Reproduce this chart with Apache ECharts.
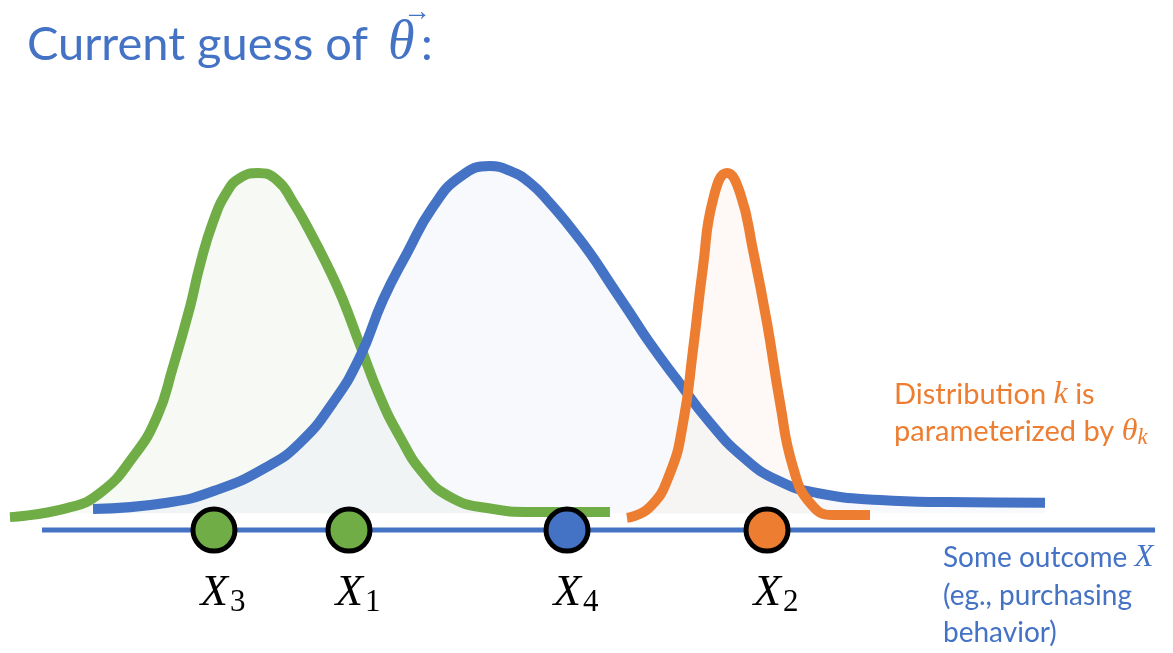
<!DOCTYPE html>
<html>
<head>
<meta charset="utf-8">
<script src="https://cdn.jsdelivr.net/npm/echarts@6/dist/echarts.min.js"></script>
<style>
  html, body { margin: 0; padding: 0; background: #ffffff; }
  #chart { width: 1173px; height: 653px; }
</style>
</head>
<body>
<div id="chart"></div>
<script>
// Density curves of the three mixture components, sampled as [outcome, density]
const greenCurve = [
  [0.85, -0.011], [5.71, 0.015], [8.53, 0.058], [11.34, 0.161], [13.38, 0.276],
  [14.75, 0.419], [16.20, 0.591], [17.05, 0.711], [18.16, 0.834], [19.35, 0.920],
  [20.46, 0.960], [22.00, 0.974], [23.61, 0.954], [24.98, 0.891], [26.43, 0.806],
  [27.88, 0.711], [29.16, 0.617], [30.69, 0.482], [32.40, 0.333], [34.10, 0.218],
  [36.06, 0.115], [38.36, 0.047], [41.52, 0.015], [45.44, 0.004], [52.00, 0.004]
];
const blueCurve = [
  [7.93, 0.012], [14.24, 0.030], [18.50, 0.067], [22.76, 0.133], [25.58, 0.202],
  [28.39, 0.317], [30.69, 0.448], [32.65, 0.611], [34.70, 0.745], [36.91, 0.877],
  [39.22, 0.963], [41.77, 0.994], [43.48, 0.980], [45.18, 0.946], [46.89, 0.888],
  [48.59, 0.820], [50.30, 0.745], [52.00, 0.659], [53.71, 0.573], [55.41, 0.487],
  [57.72, 0.382], [60.53, 0.259], [63.34, 0.161], [66.24, 0.095], [69.65, 0.058],
  [75.02, 0.038], [80.73, 0.032], [89.09, 0.030]
];
const orangeCurve = [
  [53.45, -0.013], [55.41, 0.018], [57.12, 0.115], [58.23, 0.258], [59.08, 0.468],
  [59.93, 0.705], [60.78, 0.897], [61.98, 0.974], [63.09, 0.917], [64.19, 0.754],
  [65.39, 0.545], [66.50, 0.316], [67.60, 0.133], [69.05, 0.030], [71.01, -0.005],
  [74.17, -0.005]
];

// Observed outcomes and which component each one belongs to
const obsIndex = ['3', '1', '4', '2'];
const obsValues = [18.24, 29.75, 48.34, 65.39];
const obsGroup = ['green', 'green', 'blue', 'orange'];

// Extent of the outcome axis line and its level below the densities
const outcomeRange = [3.58, 98.47];
const outcomeLevel = -0.048;

const COLORS = { blue: '#4472C4', green: '#70AD47', orange: '#ED7D31' };
const FILLS = {
  green: 'rgba(226,236,220,0.30)',
  blue: 'rgba(217,228,245,0.22)',
  orange: 'rgba(250,228,212,0.22)'
};

const SANS = 'Lato, "Open Sans", sans-serif';
const SERIF = '"Liberation Serif", "DejaVu Serif", serif';

function curveSeries(name, data, key) {
  return {
    type: 'line',
    name: name,
    data: data,
    symbol: 'none',
    smooth: 0.5,
    silent: true,
    lineStyle: { color: COLORS[key], width: 10, cap: 'butt' },
    areaStyle: { color: FILLS[key], opacity: 1 }
  };
}

const chart = echarts.init(document.getElementById('chart'));

chart.setOption({
  animation: false,
  backgroundColor: '#ffffff',
  grid: { left: 0, right: 0, top: 164, bottom: 0 },
  xAxis: { type: 'value', min: 0, max: 100, show: false },
  yAxis: { type: 'value', min: -0.4, max: 1.0, show: false },
  series: [
    curveSeries('Component 1', greenCurve, 'green'),
    curveSeries('Component 2', blueCurve, 'blue'),
    curveSeries('Component 3', orangeCurve, 'orange'),
    {
      type: 'line',
      name: 'Outcome axis',
      data: outcomeRange.map(function (x) { return [x, outcomeLevel]; }),
      symbol: 'none',
      silent: true,
      lineStyle: { color: COLORS.blue, width: 5, cap: 'butt' },
      z: 3
    },
    {
      type: 'scatter',
      name: 'Observations',
      symbol: 'circle',
      symbolSize: 42,
      z: 5,
      silent: true,
      data: obsValues.map(function (v, i) {
        return {
          value: [v, outcomeLevel],
          itemStyle: { color: COLORS[obsGroup[i]] },
          label: { formatter: '{x|X}{s|' + obsIndex[i] + '}' }
        };
      }),
      itemStyle: { borderColor: '#000000', borderWidth: 5, opacity: 1 },
      label: {
        show: true,
        position: 'bottom',
        distance: 15,
        offset: [9, 0],
        rich: {
          x: { fontFamily: SERIF, fontStyle: 'italic', fontSize: 45, color: '#000', lineHeight: 50 },
          s: { fontFamily: SERIF, fontSize: 31, color: '#000', lineHeight: 50, padding: [18, 0, 0, 2] }
        }
      }
    }
  ],
  graphic: [
    // Heading
    { type: 'text', style: { x: 27, y: 45, text: 'Current guess of', font: '47px ' + SANS, fill: COLORS.blue, verticalAlign: 'middle' } },
    { type: 'text', style: { x: 388, y: 44, text: 'θ', font: 'italic 54px ' + SERIF, fill: COLORS.blue, verticalAlign: 'middle' } },
    { type: 'text', style: { x: 403, y: 13, text: '→', font: '28px ' + SERIF, fill: COLORS.blue, verticalAlign: 'middle' } },
    { type: 'text', style: { x: 421, y: 45, text: ':', font: '47px ' + SANS, fill: COLORS.blue, verticalAlign: 'middle' } },
    // Component note
    {
      type: 'text',
      style: {
        x: 894, y: 395, verticalAlign: 'middle',
        text: '{a|Distribution }{m|k}{a| is}',
        rich: {
          a: { fontFamily: SANS, fontSize: 29, fill: COLORS.orange, color: COLORS.orange },
          m: { fontFamily: SERIF, fontStyle: 'italic', fontSize: 32, fill: COLORS.orange, color: COLORS.orange }
        }
      }
    },
    {
      type: 'text',
      style: {
        x: 894, y: 432, verticalAlign: 'middle',
        text: '{a|parameterized by }{m|θ}{s|k}',
        rich: {
          a: { fontFamily: SANS, fontSize: 29, fill: COLORS.orange, color: COLORS.orange },
          m: { fontFamily: SERIF, fontStyle: 'italic', fontSize: 32, fill: COLORS.orange, color: COLORS.orange },
          s: { fontFamily: SERIF, fontStyle: 'italic', fontSize: 23, fill: COLORS.orange, color: COLORS.orange, padding: [12, 0, 0, 0] }
        }
      }
    },
    // Outcome axis caption
    {
      type: 'text',
      style: {
        x: 943, y: 558, verticalAlign: 'middle',
        text: '{a|Some outcome }{m|X}',
        rich: {
          a: { fontFamily: SANS, fontSize: 28, fill: COLORS.blue, color: COLORS.blue },
          m: { fontFamily: SERIF, fontStyle: 'italic', fontSize: 31, fill: COLORS.blue, color: COLORS.blue }
        }
      }
    },
    { type: 'text', style: { x: 943, y: 596, text: '(eg., purchasing', font: '28px ' + SANS, fill: COLORS.blue, verticalAlign: 'middle' } },
    { type: 'text', style: { x: 943, y: 633, text: 'behavior)', font: '28px ' + SANS, fill: COLORS.blue, verticalAlign: 'middle' } }
  ]
});
</script>
</body>
</html>
